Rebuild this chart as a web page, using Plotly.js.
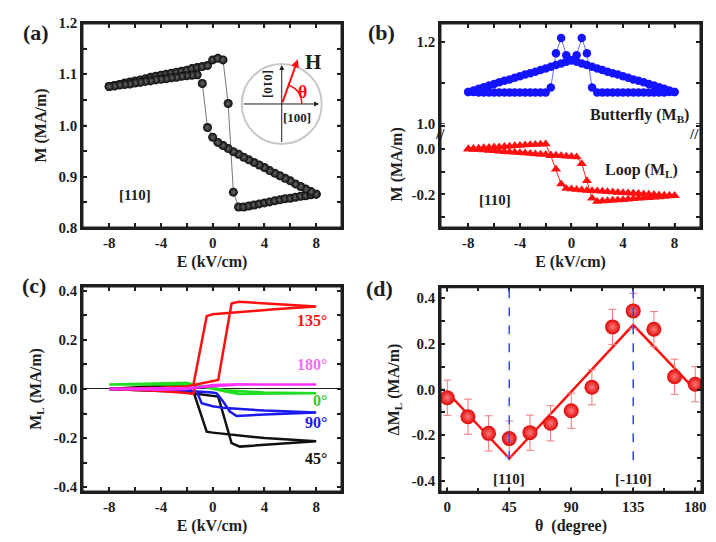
<!DOCTYPE html>
<html>
<head>
<meta charset="utf-8">
<script src="https://cdn.plot.ly/plotly-3.0.1.min.js"></script>
<style>html,body{margin:0;padding:0;background:#fff;}#chart{width:716px;height:542px;}</style>
</head>
<body>
<div id="chart"></div>
<script>
// ---------- shared field sweep grid (kV/cm) ----------
const E_sweep = [-8,-7.6,-7.2,-6.8,-6.4,-6,-5.6,-5.2,-4.8,-4.4,-4,-3.6,-3.2,-2.8,-2.4,-2,-1.6,-1.2,-0.8,-0.4,0,0.4,0.8,1.2,1.6,2,2.4,2.8,3.2,3.6,4,4.4,4.8,5.2,5.6,6,6.4,6.8,7.2,7.6,8];

// ---------- panel (a): M vs E, [110] ----------
const a_M_up = [1.076,1.078,1.080,1.083,1.085,1.087,1.089,1.091,1.094,1.096,1.098,1.100,1.102,1.104,1.106,1.108,1.111,1.113,1.115,1.117,1.128,1.131,1.128,1.043,0.870,0.841,0.841,0.843,0.845,0.847,0.849,0.851,0.853,0.855,0.857,0.858,0.860,0.862,0.863,0.865,0.866];
// down sweep listed from E=+8 to E=-8
const a_M_down = [0.866,0.871,0.876,0.881,0.886,0.892,0.897,0.902,0.907,0.912,0.918,0.923,0.928,0.933,0.938,0.944,0.949,0.955,0.961,0.967,0.977,0.996,1.082,1.099,1.098,1.097,1.096,1.094,1.093,1.091,1.090,1.089,1.087,1.086,1.084,1.083,1.081,1.080,1.079,1.077,1.076];

// ---------- panel (b): butterfly M_B and loop M_L ----------
const b_MB_up = [1.078,1.082,1.086,1.090,1.094,1.098,1.102,1.106,1.109,1.113,1.117,1.121,1.124,1.128,1.132,1.136,1.140,1.144,1.148,1.152,1.156,1.168,1.210,1.173,1.089,1.077,1.077,1.077,1.077,1.077,1.077,1.077,1.077,1.077,1.077,1.077,1.077,1.077,1.077,1.078,1.078];
const b_MB_down = [1.078,1.082,1.086,1.090,1.094,1.098,1.102,1.106,1.109,1.113,1.117,1.121,1.124,1.128,1.132,1.136,1.140,1.144,1.148,1.152,1.156,1.168,1.210,1.173,1.089,1.077,1.077,1.077,1.077,1.077,1.077,1.077,1.077,1.077,1.077,1.077,1.077,1.077,1.077,1.078,1.078];
const b_ML_up = [0.000,-0.002,-0.003,-0.005,-0.007,-0.008,-0.010,-0.012,-0.013,-0.015,-0.017,-0.018,-0.020,-0.022,-0.023,-0.025,-0.027,-0.028,-0.030,-0.032,-0.033,-0.036,-0.065,-0.140,-0.218,-0.232,-0.230,-0.229,-0.227,-0.225,-0.224,-0.222,-0.220,-0.218,-0.217,-0.215,-0.213,-0.212,-0.210,-0.208,-0.207];
const b_ML_down = [-0.207,-0.205,-0.204,-0.203,-0.201,-0.200,-0.199,-0.197,-0.196,-0.194,-0.193,-0.192,-0.190,-0.189,-0.187,-0.186,-0.184,-0.183,-0.181,-0.179,-0.177,-0.175,-0.155,-0.090,-0.030,0.022,0.021,0.020,0.018,0.017,0.015,0.014,0.012,0.011,0.009,0.008,0.006,0.005,0.003,0.002,0.000];

// ---------- panel (c): M_L loops at several angles ----------
const c_E_45  = [-8,-4,-2,-1.44,0,0.43,0.8,1.2,1.46,2.1,4,8, 4,2,0,-0.46,-0.8,-1.2,-1.44,-2,-3,-8];
const c_M_45  = [0.0,-0.006,-0.012,-0.018,-0.028,-0.031,-0.099,-0.173,-0.221,-0.235,-0.228,-0.213, -0.2,-0.19,-0.178,-0.174,-0.12,-0.056,-0.018,0.012,0.016,0.0];
const c_E_90  = [-8,-4,-1.5,0,0.31,0.82,1.33,1.85,4,8, 4,1,0,-0.85,-1.05,-1.23,-2,-8];
const c_M_90  = [0.0,-0.004,-0.009,-0.014,-0.018,-0.052,-0.092,-0.11,-0.104,-0.096, -0.088,-0.078,-0.07,-0.058,-0.035,-0.011,-0.006,0.0];
const c_E_0   = [-8,-4,-2,-1,0,1,2,8, 4,2,1,0,-1,-2,-8];
const c_M_0   = [0.018,0.022,0.025,0.012,0.0,-0.01,-0.02,-0.017, -0.014,-0.01,-0.005,0.004,0.012,0.018,0.018];
const c_E_135 = [-8,-4,-2,-1.5,-1.3,0,0.43,0.8,1.2,1.46,2,3,5,8, 5,2,0,-0.46,-0.8,-1.2,-1.49,-2,-4,-8];
const c_M_135 = [0.0,-0.008,-0.016,-0.02,0.018,0.03,0.037,0.149,0.27,0.349,0.356,0.353,0.345,0.336, 0.326,0.315,0.305,0.297,0.204,0.095,0.016,0.01,0.005,0.0];
const c_E_180 = [-8,-4,-2,-1,0,1,2,8, 2,0,-1,-2,-4,-8];
const c_M_180 = [0.0,0.002,0.004,0.007,0.011,0.016,0.018,0.018, 0.019,0.016,0.008,0.0,-0.003,0.0];
const c_labels = ['135°','180°','0°','90°','45°'];
const c_label_M = [0.281,0.10,-0.045,-0.137,-0.282];
const c_colors = ['#ff1010','#ee70ee','#33cc33','#1a1aee','#111111'];

// ---------- panel (d): ΔM_L vs θ ----------
const d_theta = [0,15,30,45,60,75,90,105,120,135,150,165,180];
const d_dML   = [-0.036,-0.119,-0.192,-0.215,-0.189,-0.148,-0.093,0.010,0.274,0.344,0.264,0.056,0.023];
const d_err   = [0.077,0.077,0.077,0.077,0.077,0.077,0.077,0.077,0.077,0.077,0.077,0.077,0.077];
const d_fit_theta = [0,45,135,180];
const d_fit_dML   = [-0.012,-0.302,0.283,-0.002];
const d_dir_theta = [45,135];
const d_dir_label = ['[110]','[-110]'];

// ---------- tick values / labels (blank label = minor tick) ----------
const E_tickvals = [-8,-6,-4,-2,0,2,4,6,8];
const E_ticktext = ['-8','','-4','','0','','4','','8'];
const a_tickvals = [0.8,0.85,0.9,0.95,1.0,1.05,1.1,1.15,1.2];
const a_ticktext = ['0.8','','0.9','','1.0','','1.1','','1.2'];
const bU_tickvals = [1.0,1.1,1.2];
const bU_ticktext = ['1.0','','1.2'];
const bL_tickvals = [-0.3,-0.2,-0.1,0.0,0.1];
const bL_ticktext = ['','-0.2','','0.0',''];
const cd_tickvals = [-0.4,-0.3,-0.2,-0.1,0.0,0.1,0.2,0.3,0.4];
const cd_ticktext = ['-0.4','','-0.2','','0.0','','0.2','','0.4'];
const th_tickvals = [0,22.5,45,67.5,90,112.5,135,157.5,180];
const th_ticktext = ['0','','45','','90','','135','','180'];

// ---------- axis ranges ----------
const R = {
  aX:[-10.1,10], aY:[0.8,1.2],
  bX:[-10.2,10.05], bYL:[-0.349,0.110], bYU:[1.0,1.247],
  cX:[-10.1,10], cY:[-0.42,0.42],
  dX:[-5.3,184.9], dY:[-0.45,0.45]
};
// panel placement (paper fractions)
const W = 716, H = 542;
const DOM = {
  a:{x:[0.1145,0.4777], y:[0.5793,0.9576]},
  b:{x:[0.6145,0.9790], yL:[0.5793,0.7712], yU:[0.7712,0.9576]},
  c:{x:[0.1145,0.4777], y:[0.0923,0.4723]},
  d:{x:[0.6145,0.9804], y:[0.0917,0.4710]}
};

const FONT = 'Liberation Serif, Times New Roman, serif';
const INK = '#1e1e1e';
const E_down = E_sweep.slice().reverse();

function ax(extra){
  return Object.assign({
    showline:true, linecolor:INK, linewidth:1.5, mirror:'ticks',
    ticks:'inside', ticklen:5, tickwidth:1.5, tickcolor:INK,
    showgrid:false, zeroline:false, fixedrange:true, tickmode:'array',
    tickfont:{family:FONT,size:15,color:INK,weight:'bold'},
  }, extra);
}
const titleFont = {family:FONT,size:16,color:INK,weight:'bold'};

const traces = [];
// (a)
traces.push({x:E_sweep.concat(E_down), y:a_M_up.concat(a_M_down), xaxis:'x', yaxis:'y', mode:'lines+markers',
  line:{color:'#777',width:1},
  marker:{size:9,color:'#0a0a0a',gradient:{type:'radial',color:'#6a6a6a'},line:{width:0}}, showlegend:false});
// (b) butterfly (upper axis) and loop (lower axis)
traces.push({x:E_sweep.concat(E_down), y:b_MB_up.concat(b_MB_down), xaxis:'x3', yaxis:'y3', mode:'lines+markers',
  line:{color:'#6a6aff',width:1}, marker:{size:8.5,color:'#1414ff',line:{width:0}}, showlegend:false});
traces.push({x:E_sweep.concat(E_down), y:b_ML_up.concat(b_ML_down), xaxis:'x2', yaxis:'y2', mode:'lines+markers',
  line:{color:'#ff2020',width:1}, marker:{symbol:'triangle-up',size:9,color:'#ff1010',line:{width:0}}, showlegend:false});
// (c)
const cSeries = [[c_E_45,c_M_45,'#111111'],[c_E_90,c_M_90,'#1a1aee'],[c_E_0,c_M_0,'#22dd22'],[c_E_135,c_M_135,'#ff1010'],[c_E_180,c_M_180,'#ff30ff']];
cSeries.forEach(s=>traces.push({x:s[0],y:s[1],xaxis:'x4',yaxis:'y4',mode:'lines',line:{color:s[2],width:2.5},showlegend:false}));
// (d)
traces.push({x:d_fit_theta, y:d_fit_dML, xaxis:'x5', yaxis:'y5', mode:'lines', line:{color:'#ff1010',width:2.5}, showlegend:false});
traces.push({x:d_theta, y:d_dML, xaxis:'x5', yaxis:'y5', mode:'markers',
  error_y:{type:'data',array:d_err,visible:true,color:'#f07878',thickness:1,width:4},
  marker:{size:15,color:'#e00808',gradient:{type:'radial',color:'#ff7a7a'},line:{width:0}}, showlegend:false});

// ---------- panel frames + tick marks drawn on each panel's own axes ----------
function frameTrace(xa,ya,xr,yr,sides){
  const X=[],Y=[];
  if(sides.includes('b')){X.push(xr[0],xr[1],null);Y.push(yr[0],yr[0],null);}
  if(sides.includes('t')){X.push(xr[0],xr[1],null);Y.push(yr[1],yr[1],null);}
  if(sides.includes('l')){X.push(xr[0],xr[0],null);Y.push(yr[0],yr[1],null);}
  if(sides.includes('r')){X.push(xr[1],xr[1],null);Y.push(yr[0],yr[1],null);}
  traces.push({x:X,y:Y,xaxis:xa,yaxis:ya,mode:'lines',line:{color:INK,width:3},hoverinfo:'skip',showlegend:false});
}
function tickTrace(xa,ya,xr,yr,xd,yd,xt,xtt,yt,ytt,sides){
  const pxW=(xd[1]-xd[0])*W, pxH=(yd[1]-yd[0])*H;
  const X=[],Y=[];
  xt.forEach((t,i)=>{
    const len=(xtt[i]===''?3:5)/pxH*(yr[1]-yr[0]);
    if(sides.includes('b')){X.push(t,t,null);Y.push(yr[0],yr[0]+len,null);}
    if(sides.includes('t')){X.push(t,t,null);Y.push(yr[1],yr[1]-len,null);}
  });
  yt.forEach((t,i)=>{
    const len=(ytt[i]===''?3:5)/pxW*(xr[1]-xr[0]);
    if(sides.includes('l')){X.push(xr[0],xr[0]+len,null);Y.push(t,t,null);}
    if(sides.includes('r')){X.push(xr[1],xr[1]-len,null);Y.push(t,t,null);}
  });
  traces.push({x:X,y:Y,xaxis:xa,yaxis:ya,mode:'lines',line:{color:INK,width:1.5},hoverinfo:'skip',showlegend:false});
}
frameTrace('x','y',R.aX,R.aY,'btlr');
tickTrace('x','y',R.aX,R.aY,DOM.a.x,DOM.a.y,E_tickvals,E_ticktext,a_tickvals,a_ticktext,'btlr');
frameTrace('x2','y2',R.bX,R.bYL,'blr');
tickTrace('x2','y2',R.bX,R.bYL,DOM.b.x,DOM.b.yL,E_tickvals,E_ticktext,bL_tickvals,bL_ticktext,'blr');
frameTrace('x3','y3',R.bX,R.bYU,'tlr');
tickTrace('x3','y3',R.bX,R.bYU,DOM.b.x,DOM.b.yU,E_tickvals,E_ticktext,bU_tickvals,bU_ticktext,'tlr');
frameTrace('x4','y4',R.cX,R.cY,'btlr');
tickTrace('x4','y4',R.cX,R.cY,DOM.c.x,DOM.c.y,E_tickvals,E_ticktext,cd_tickvals,cd_ticktext,'btlr');
frameTrace('x5','y5',R.dX,R.dY,'btlr');
tickTrace('x5','y5',R.dX,R.dY,DOM.d.x,DOM.d.y,th_tickvals,th_ticktext,cd_tickvals,cd_ticktext,'btlr');

const annotations = [];
function note(text,x,y,xref,yref,opt){ annotations.push(Object.assign({text:text,x:x,y:y,xref:xref,yref:yref,showarrow:false,font:{family:FONT,size:15,color:INK,weight:'bold'}},opt||{})); }
// panel letters
note('(a)',0.029,0.967,'paper','paper',{font:{family:FONT,size:22,color:INK,weight:'bold'}});
note('(b)',0.5335,0.967,'paper','paper',{font:{family:FONT,size:22,color:INK,weight:'bold'}});
note('(c)',0.028,0.474,'paper','paper',{font:{family:FONT,size:22,color:INK,weight:'bold'}});
note('(d)',0.5307,0.4686,'paper','paper',{font:{family:FONT,size:22,color:INK,weight:'bold'}});
// (a) texts + inset
note('[110]',-6.0,0.864,'x','y');
note('H',7.72,1.1245,'x','y',{font:{family:FONT,size:21,color:INK,weight:'bold'}});
note('θ',6.97,1.066,'x','y',{font:{family:FONT,size:18,color:'#ff1010',weight:'bold'}});
note('[010]',4.28,1.081,'x','y',{textangle:90,font:{family:FONT,size:13,color:INK,weight:'bold'}});
note('[100]',6.5,1.016,'x','y',{font:{family:FONT,size:13,color:INK,weight:'bold'}});
annotations.push({x:8.23,y:1.042,xref:'x',yref:'y',text:' ',showarrow:true,ax:-77,ay:0,arrowhead:2,arrowsize:1,arrowwidth:1,arrowcolor:INK,font:{size:1}});
annotations.push({x:5.34,y:1.118,xref:'x',yref:'y',text:' ',showarrow:true,ax:0,ay:79,arrowhead:2,arrowsize:1,arrowwidth:1,arrowcolor:INK,font:{size:1}});
annotations.push({x:6.58,y:1.129,xref:'x',yref:'y',text:' ',showarrow:true,ax:-16,ay:45,arrowhead:2,arrowsize:0.8,arrowwidth:2,arrowcolor:'#ff1010',font:{size:1}});
// (b) texts
note('[110]',-5.9,-0.225,'x2','y2');
note('Butterfly (M<sub>B</sub>)',5.3,1.022,'x3','y3',{font:{family:FONT,size:16,color:INK,weight:'bold'}});
note('Loop (M<sub>L</sub>)',5.4,-0.093,'x2','y2',{font:{family:FONT,size:16,color:INK,weight:'bold'}});
note('//',DOM.b.x[0],DOM.b.yL[1],'paper','paper',{font:{family:FONT,size:15,color:INK,weight:'bold'}});
note('//',DOM.b.x[1],DOM.b.yL[1],'paper','paper',{font:{family:FONT,size:15,color:INK,weight:'bold'}});
note('M (MA/m)',0.554,0.768,'paper','paper',{textangle:-90,font:titleFont});
// (c) angle labels
c_labels.forEach((t,i)=>note(t,9.0,c_label_M[i],'x4','y4',{xanchor:'right',font:{family:FONT,size:16,color:c_colors[i],weight:'bold'}}));
// (d) direction labels
d_dir_theta.forEach((t,i)=>note(d_dir_label[i],t,-0.39,'x5','y5'));

const shapes = [];
shapes.push({type:'circle',xref:'x',yref:'y',xsizemode:'pixel',ysizemode:'pixel',xanchor:5.34,yanchor:1.042,x0:-40,x1:40,y0:-40,y1:40,line:{color:'#c8c8c8',width:2}});
shapes.push({type:'path',xref:'x',yref:'y',xsizemode:'pixel',ysizemode:'pixel',xanchor:5.34,yanchor:1.042,path:'M 20,0 Q 20,14 6.8,18.8',line:{color:'#ff1010',width:1.5}});
d_dir_theta.forEach(t=>shapes.push({type:'line',xref:'x5',yref:'y5',x0:t,x1:t,y0:-0.31,y1:R.dY[1],line:{color:'#3344ff',width:1.5,dash:'dash'}}));

const layout = {
  width:W, height:H, margin:{l:0,r:0,t:0,b:0},
  paper_bgcolor:'#fff', plot_bgcolor:'rgba(0,0,0,0)', showlegend:false,
  font:{family:FONT,size:15,color:INK,weight:'bold'},
  // (a)
  xaxis: ax({domain:DOM.a.x,anchor:'y',range:R.aX,tickvals:E_tickvals,ticktext:E_ticktext,
    title:{text:'E (kV/cm)',font:titleFont,standoff:6}}),
  yaxis: ax({domain:DOM.a.y,anchor:'x',range:R.aY,tickvals:a_tickvals,ticktext:a_ticktext,
    title:{text:'M (MA/m)',font:titleFont,standoff:8}}),
  // (b) lower
  xaxis2: ax({domain:DOM.b.x,anchor:'y2',range:R.bX,mirror:false,tickvals:E_tickvals,ticktext:E_ticktext,
    title:{text:'E (kV/cm)',font:titleFont,standoff:6}}),
  yaxis2: ax({domain:DOM.b.yL,anchor:'x2',range:R.bYL,tickvals:bL_tickvals,ticktext:bL_ticktext}),
  // (b) upper
  xaxis3: ax({domain:DOM.b.x,anchor:'y3',range:R.bX,side:'top',mirror:false,showticklabels:false,tickvals:E_tickvals,ticktext:E_ticktext}),
  yaxis3: ax({domain:DOM.b.yU,anchor:'x3',range:R.bYU,tickvals:bU_tickvals,ticktext:bU_ticktext}),
  // (c)
  xaxis4: ax({domain:DOM.c.x,anchor:'y4',range:R.cX,tickvals:E_tickvals,ticktext:E_ticktext,
    title:{text:'E (kV/cm)',font:titleFont,standoff:6}}),
  yaxis4: ax({domain:DOM.c.y,anchor:'x4',range:R.cY,tickvals:cd_tickvals,ticktext:cd_ticktext,
    zeroline:true,zerolinecolor:INK,zerolinewidth:1.2,
    title:{text:'M<sub>L</sub> (MA/m)',font:titleFont,standoff:8}}),
  // (d)
  xaxis5: ax({domain:DOM.d.x,anchor:'y5',range:R.dX,tickvals:th_tickvals,ticktext:th_ticktext,
    title:{text:'θ  (degree)',font:titleFont,standoff:6}}),
  yaxis5: ax({domain:DOM.d.y,anchor:'x5',range:R.dY,tickvals:cd_tickvals,ticktext:cd_ticktext,
    title:{text:'ΔM<sub>L</sub> (MA/m)',font:titleFont,standoff:8}}),
  annotations:annotations,
  shapes:shapes
};
Plotly.newPlot('chart', traces, layout, {displayModeBar:false});
</script>
</body>
</html>
